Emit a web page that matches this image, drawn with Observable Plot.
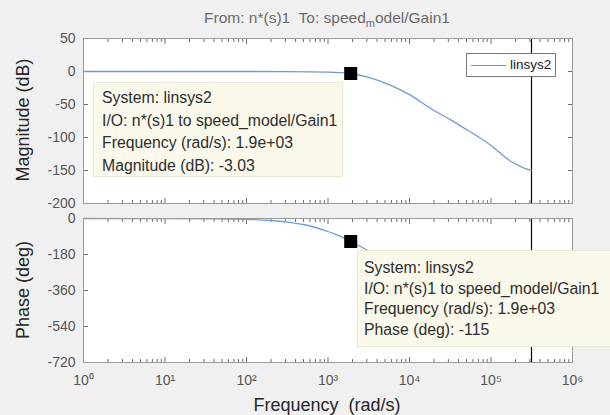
<!DOCTYPE html>
<html>
<head>
<meta charset="utf-8">
<script src="https://cdn.jsdelivr.net/npm/d3@7"></script>
<script src="https://cdn.jsdelivr.net/npm/@observablehq/plot@0.6"></script>
<style>
  html, body { margin: 0; padding: 0; background: #f0f0f0; }
  #fig { position: relative; width: 610px; height: 415px; background: #f0f0f0; overflow: hidden;
         font-family: "Liberation Sans", Arial, Helvetica, sans-serif; }
  #fig svg { position: absolute; left: 0; }
  .abs { position: absolute; }
  .ylab { position: absolute; transform: translate(-50%, -50%) rotate(-90deg); white-space: nowrap;
          font-size: 18px; color: #262626; }
  .tip { position: absolute; background: #fbf9ec; border: 1px solid #ebe7d2; box-sizing: border-box;
         font-size: 15.8px; color: #2e2e2e; white-space: nowrap; }
</style>
</head>
<body>
<div id="fig"></div>
<script>
// ---- data ----
const titleText = "From: n*(s)1  To: speed";
const systemName = "linsys2";
const ioText = "I/O: n*(s)1 to speed_model/Gain1";

const magFreq = [1, 10, 100, 316, 1000, 1400, 1900, 3160, 5900, 10000, 18200, 31600, 45700, 100000, 174000, 250000, 314000];
const magDb   = [0, 0, 0, -0.1, -0.8, -1.6, -3.03, -9, -21, -35, -56, -73, -85, -112, -136, -146, -150];

const phFreq  = [1, 10, 31.6, 100, 200, 316, 500, 700, 1000, 1400, 1900, 2500, 4000, 6300, 10000, 31600, 100000, 314000];
const phDeg   = [0, -0.5, -1.5, -4, -10, -18, -30, -45, -65, -88, -115, -140, -185, -220, -245, -290, -330, -355];

const tipFreq = [1900];
const tipMag = [-3.03];
const tipPhase = [-115];
const endFreq = [314000];

const decadeTicks = [1, 10, 100, 1000, 10000, 100000, 1000000];
const minorTicks = [];
for (const d of decadeTicks.slice(0, -1)) for (let k = 2; k <= 9; k++) minorTicks.push(k * d);
const magTicks = [50, 0, -50, -100, -150, -200];
const phaseTicks = [0, -180, -360, -540, -720];

const lineColor = "#6f9bd4";
const sup = ["⁰","¹","²","³","⁴","⁵","⁶"];

const magData = magFreq.map((f, i) => ({f, v: magDb[i]}));
const phData = phFreq.map((f, i) => ({f, v: phDeg[i]}));
const tipMagData = tipFreq.map((f, i) => ({f, v: tipMag[i]}));
const tipPhData = tipFreq.map((f, i) => ({f, v: tipPhase[i]}));

const style = {fontFamily: '"Liberation Sans", Arial, sans-serif', fontSize: "14px", background: "transparent", overflow: "visible"};

// inward ticks: positive tick size, shifted back inside the frame
function frameTicks(yTicks) {
  const common = {label: null, tickFormat: () => "", stroke: "#6e6e6e"};
  return [
    Plot.axisX(minorTicks, {...common, anchor: "top", tickSize: 3, dy: 3}),
    Plot.axisX(minorTicks, {...common, anchor: "bottom", tickSize: 3, dy: -3}),
    Plot.axisX(decadeTicks, {...common, anchor: "top", tickSize: 5, dy: 5}),
    Plot.axisX(decadeTicks, {...common, anchor: "bottom", tickSize: 5, dy: -5}),
    Plot.axisY(yTicks, {...common, anchor: "left", tickSize: 5, dx: 5}),
    Plot.axisY(yTicks, {...common, anchor: "right", tickSize: 5, dx: -5}),
    Plot.axisY(yTicks, {anchor: "left", tickSize: 0, tickPadding: 8, label: null,
                tickFormat: d => String(d), fill: "#555", fontSize: 14})
  ];
}

const magPlot = Plot.plot({
  width: 610, height: 215,
  marginLeft: 83, marginRight: 38, marginTop: 38, marginBottom: 12,
  x: {type: "log", domain: [1, 1e6], axis: null},
  y: {domain: [-200, 50], axis: null},
  style,
  marks: [
    Plot.frame({fill: "white", stroke: null}),
    ...frameTicks(magTicks),
    Plot.ruleX(endFreq, {x: d => d, stroke: "black", strokeWidth: 1.2}),
    Plot.line(magData, {x: "f", y: "v", stroke: lineColor, strokeWidth: 1.3, curve: "monotone-x"}),
    Plot.frame({stroke: "#9a9a9a"}),
    Plot.dot(tipMagData, {x: "f", y: "v", symbol: "square", r: 6.5, fill: "black", stroke: "black"})
  ]
});
magPlot.style.top = "0px";

const phPlot = Plot.plot({
  width: 610, height: 210,
  marginLeft: 83, marginRight: 38, marginTop: 13, marginBottom: 53,
  x: {type: "log", domain: [1, 1e6], axis: null},
  y: {domain: [-720, 0], axis: null},
  style,
  marks: [
    Plot.frame({fill: "white", stroke: null}),
    ...frameTicks(phaseTicks),
    Plot.axisX(decadeTicks, {anchor: "bottom", tickSize: 0, tickPadding: 13, label: null,
                tickFormat: d => "10" + sup[Math.round(Math.log10(d))], fill: "#555", fontSize: 14}),
    Plot.ruleX(endFreq, {x: d => d, stroke: "black", strokeWidth: 1.2}),
    Plot.line(phData, {x: "f", y: "v", stroke: lineColor, strokeWidth: 1.3, curve: "monotone-x"}),
    Plot.frame({stroke: "#9a9a9a"}),
    Plot.dot(tipPhData, {x: "f", y: "v", symbol: "square", r: 6.5, fill: "black", stroke: "black"})
  ]
});
phPlot.style.top = "205px";

const fig = document.getElementById("fig");
fig.appendChild(magPlot);
fig.appendChild(phPlot);

function addDiv(html, cls, css) {
  const d = document.createElement("div");
  d.className = cls;
  d.innerHTML = html;
  Object.assign(d.style, css);
  fig.appendChild(d);
  return d;
}

// title
addDiv(titleText + '<sub style="font-size:11px">m</sub>odel/Gain1', "abs",
  {left: "327px", top: "9px", transform: "translateX(-50%)", fontSize: "15.5px", color: "#6a6a6a", whiteSpace: "pre"});

// axis labels
addDiv("Magnitude (dB)", "ylab", {left: "23px", top: "120px"});
addDiv("Phase (deg)", "ylab", {left: "23px", top: "290px"});
addDiv("Frequency&nbsp;&nbsp;(rad/s)", "abs",
  {left: "327px", top: "395px", transform: "translateX(-50%)", fontSize: "18px", color: "#262626", whiteSpace: "nowrap"});

// legend
addDiv('<span style="position:absolute;left:4px;top:11px;width:35px;height:0;border-top:1.5px solid ' + lineColor + '"></span>' +
       '<span style="position:absolute;left:43px;top:3px;font-size:13.5px;color:#1a1a1a">' + systemName + '</span>', "abs",
  {left: "466px", top: "53px", width: "90px", height: "24px", background: "white", border: "1px solid #7a7a7a", boxSizing: "border-box"});

// data tips
const fmtF = d3.format(".1e");
const freqStr = fmtF(tipFreq[0]).replace(/e\+(\d)$/, "e+0$1");
addDiv(
  ["System: " + systemName, ioText, "Frequency (rad/s): " + freqStr, "Magnitude (dB): " + tipMag[0]].join("<br>"),
  "tip", {left: "93px", top: "82px", width: "250px", height: "95px", padding: "4px 0 0 8px", lineHeight: "22.5px"});
addDiv(
  ["System: " + systemName, ioText, "Frequency (rad/s): " + freqStr, "Phase (deg): " + tipPhase[0]].join("<br>"),
  "tip", {left: "357px", top: "250px", width: "260px", height: "97px", padding: "7px 0 0 6px", lineHeight: "20.5px"});
</script>
</body>
</html>
